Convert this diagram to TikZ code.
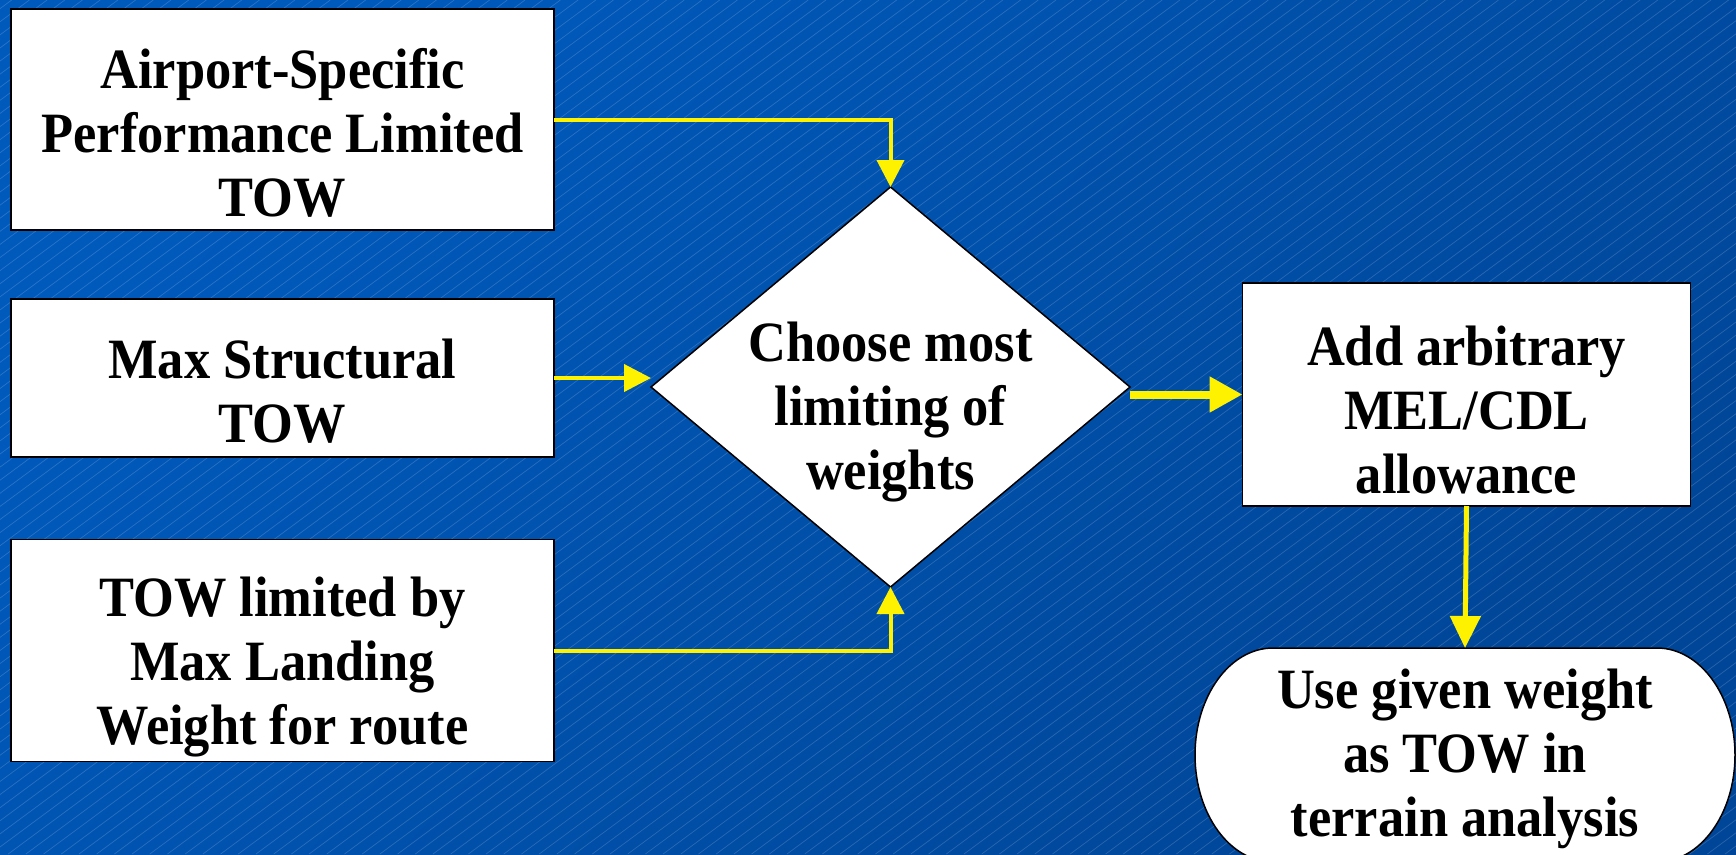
\documentclass[tikz,border=0pt]{standalone}
\usepackage{fontspec}
\setmainfont{Liberation Serif}[FakeStretch=0.92]
\usetikzlibrary{shapes.geometric,arrows.meta}

\definecolor{bgtl}{RGB}{0,90,188}
\definecolor{bgmid}{RGB}{0,108,218}
\definecolor{bgbr}{RGB}{0,70,152}

\tikzset{
  box/.style={draw=black, line width=1.5pt, fill=white, minimum width=543pt,
              inner sep=0pt, outer sep=0pt},
  txt/.style={align=center, inner sep=0pt,
              font=\fontsize{57}{64}\selectfont\bfseries},
  flow/.style={draw=yellow, line width=4pt,
               -{Triangle[width=27pt,length=27pt]}},
  stripe/.style={white, opacity=0.16, line width=0.7pt}
}

\begin{document}
\begin{tikzpicture}[x=1pt, y=-1pt]
    % background
    \path[use as bounding box] (0,0) rectangle (1736,854);
    \shade[top color=bgtl, middle color=bgmid, bottom color=bgbr, shading angle=45]
                (0,0) rectangle (1736,854);
    \begin{scope}
    \clip (0,0) rectangle (1736,854);
    \foreach \i in {-1160,-1142.3,...,1740}
        \draw[stripe] (\i,854) -- ++(1154,-854);
    \end{scope}

    %% inputs
    \node[box, minimum height=221pt] (perf) at (282.5,119.5) {};
    \node[txt] (perftxt) at (282.5,133) {Airport-Specific\\Performance Limited\\TOW};

    \node[box, minimum height=158pt] (struct) at (282.5,378) {};
    \node[txt] (structtxt) at (282.5,391) {Max Structural\\TOW};

    \node[box, minimum height=222pt] (land) at (282.5,650.5) {};
    \node[txt] (landtxt) at (282.5,667) {TOW limited by\\Max Landing\\Weight for route};

    %% decision
    \node[diamond, draw=black, line width=1.5pt, fill=white, inner sep=0pt, outer sep=0pt,
          minimum width=479pt, minimum height=400pt] (choose) at (890.5,387) {};
    \node[txt] (choosetxt) at (890.5,412) {Choose most\\limiting of\\weights};

    %% allowance
    \node[box, minimum width=448pt, minimum height=223pt] (mel) at (1466.5,394.5) {};
    \node[txt] (meltxt) at (1466.5,410) {Add arbitrary\\MEL/CDL\\allowance};

    %% terminator
    \draw[fill=white, line width=1.5pt] (1273,648) -- (1657,648)
        arc[start angle=90, end angle=-90, x radius=78pt, y radius=107pt]
        -- (1273,862)
        arc[start angle=270, end angle=90, x radius=78pt, y radius=107pt] -- cycle;
    \node[inner sep=0pt, outer sep=0pt, minimum width=540pt, minimum height=214pt] (use) at (1465,755) {};
    \node[txt] (usetxt) at (1465,759) {Use given weight\\as TOW in\\terrain analysis};

    %% connectors
    \draw[flow] (perf.east) -| (choose.north);
    \draw[flow] (struct.east) -- (struct.east -| choose.west);
    \draw[flow] (land.east) -| (choose.south);
    \draw[flow, line width=8pt, -{Triangle[width=34pt,length=33pt]}]
        (choose.east |- mel.west) -- (mel.west);
    \draw[flow, line width=5pt, -{Triangle[width=30pt,length=32pt]}]
        (mel.south) -- (use.north);
\end{tikzpicture}
\end{document}
